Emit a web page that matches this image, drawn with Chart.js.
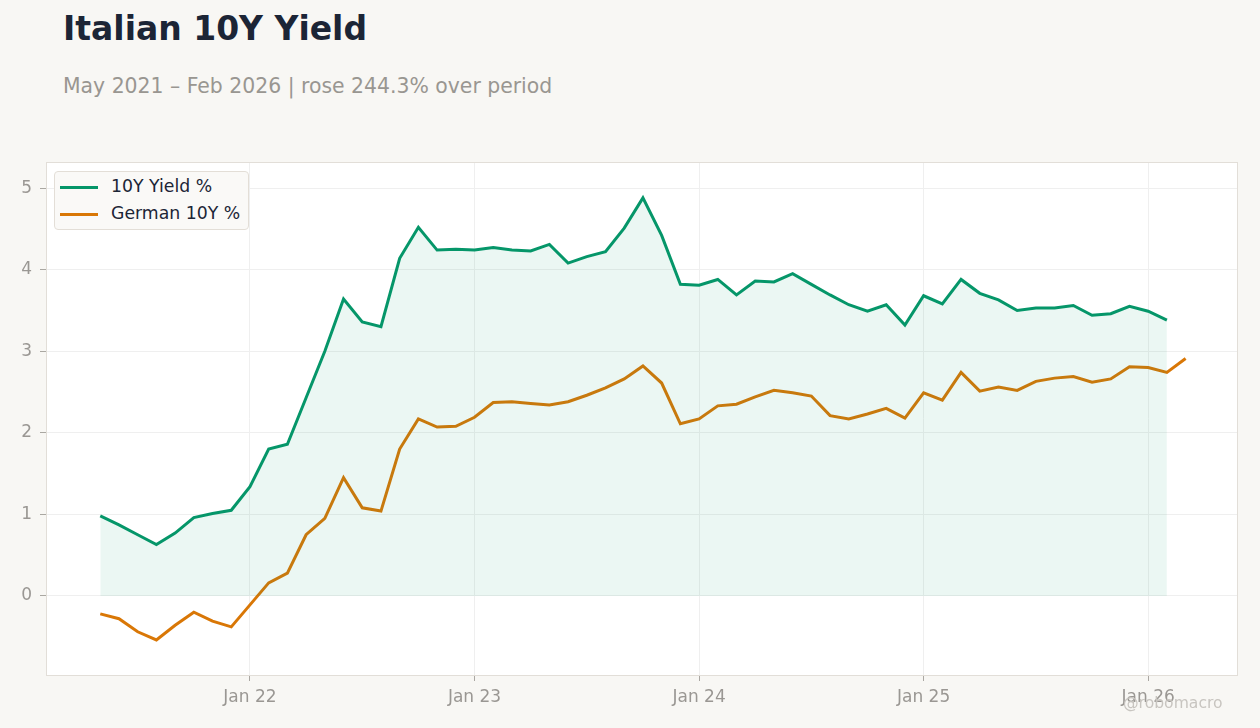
<!DOCTYPE html>
<html>
<head>
<meta charset="utf-8">
<script src="https://cdn.jsdelivr.net/npm/chart.js@4.4.1/dist/chart.umd.min.js"></script>
<style>
  html, body { margin: 0; padding: 0; background: #f8f7f4; }
  body { width: 1260px; height: 728px; position: relative; overflow: hidden; font-family: "DejaVu Sans", sans-serif; }
  #chart { position: absolute; left: 0; top: 0; }
  .title { position: absolute; left: 63px; top: 9px; font-size: 33px; font-weight: bold; color: #1c2536; }
  .subtitle { position: absolute; left: 63px; top: 74px; font-size: 20.4px; color: #999691; }
  .legend { position: absolute; left: 54px; top: 171px; width: 193px; height: 57px; background: #faf9f7;
            border: 1px solid #e3ded7; border-radius: 4px; }
  .legend div { position: absolute; left: 56px; font-size: 17.3px; color: #1c2536; white-space: nowrap; }
  .legend span { position: absolute; left: -51px; top: 10px; width: 38px; height: 3px; }
  .mark { position: absolute; left: 1123px; top: 694px; font-size: 15.6px; color: #c8c5c0; }
</style>
</head>
<body>
<div class="title">Italian 10Y Yield</div>
<div class="subtitle">May 2021 – Feb 2026 | rose 244.3% over period</div>
<canvas id="chart" width="1260" height="728"></canvas>
<div class="legend">
  <div style="top:4px"><span style="background:#059669"></span>10Y Yield %</div>
  <div style="top:31px"><span style="background:#d97706"></span>German 10Y %</div>
</div>
<div class="mark">@robomacro</div>
<script>
const months = [
  '2021-05','2021-06','2021-07','2021-08','2021-09','2021-10','2021-11','2021-12',
  '2022-01','2022-02','2022-03','2022-04','2022-05','2022-06','2022-07','2022-08','2022-09','2022-10','2022-11','2022-12',
  '2023-01','2023-02','2023-03','2023-04','2023-05','2023-06','2023-07','2023-08','2023-09','2023-10','2023-11','2023-12',
  '2024-01','2024-02','2024-03','2024-04','2024-05','2024-06','2024-07','2024-08','2024-09','2024-10','2024-11','2024-12',
  '2025-01','2025-02','2025-03','2025-04','2025-05','2025-06','2025-07','2025-08','2025-09','2025-10','2025-11','2025-12',
  '2026-01','2026-02','2026-03'
];

const italy10y = [
  0.98, 0.87, 0.75, 0.63, 0.77, 0.96, 1.01, 1.05,
  1.34, 1.80, 1.86, 2.43, 3.00, 3.64, 3.36, 3.30, 4.14, 4.52, 4.24, 4.25,
  4.24, 4.27, 4.24, 4.23, 4.31, 4.08, 4.16, 4.22, 4.51, 4.88, 4.42, 3.82,
  3.81, 3.88, 3.69, 3.86, 3.85, 3.95, 3.82, 3.69, 3.57, 3.49, 3.57, 3.32,
  3.68, 3.58, 3.88, 3.71, 3.63, 3.50, 3.53, 3.53, 3.56, 3.44, 3.46, 3.55,
  3.49, 3.38, null
];

const german10y = [
  -0.22, -0.28, -0.44, -0.54, -0.36, -0.20, -0.31, -0.38,
  -0.11, 0.16, 0.28, 0.75, 0.95, 1.45, 1.08, 1.04, 1.80, 2.17, 2.07, 2.08,
  2.19, 2.37, 2.38, 2.36, 2.34, 2.38, 2.46, 2.55, 2.66, 2.82, 2.61, 2.11,
  2.17, 2.33, 2.35, 2.44, 2.52, 2.49, 2.45, 2.21, 2.17, 2.23, 2.30, 2.18,
  2.49, 2.40, 2.74, 2.51, 2.56, 2.52, 2.63, 2.67, 2.69, 2.62, 2.66, 2.81,
  2.80, 2.74, 2.91
];

const tickMonths = ['2022-01', '2023-01', '2024-01', '2025-01', '2026-01'];
const tickLabels = ['Jan 22', 'Jan 23', 'Jan 24', 'Jan 25', 'Jan 26'];

// months since Jan 2021
const monthIndex = (s) => {
  const [y, m] = s.split('-').map(Number);
  return (y - 2021) * 12 + (m - 1);
};

const toPoints = (vals) => months.map((m, i) => ({x: monthIndex(m), y: vals[i]}));

const plotFrame = {
  id: 'plotFrame',
  beforeDraw(chart) {
    const {ctx, chartArea: a} = chart;
    ctx.save();
    ctx.fillStyle = '#ffffff';
    ctx.fillRect(a.left, a.top, a.width, a.height);
    ctx.restore();
  },
  afterDraw(chart) {
    const {ctx, chartArea: a} = chart;
    ctx.save();
    ctx.strokeStyle = '#e2ded8';
    ctx.lineWidth = 1;
    ctx.strokeRect(a.left + 0.5, a.top + 0.5, a.width - 1, a.height);
    ctx.restore();
  }
};

const tickFont = {family: 'DejaVu Sans', size: 17};

new Chart(document.getElementById('chart'), {
  type: 'line',
  data: {
    datasets: [
      {
        label: '10Y Yield %',
        data: toPoints(italy10y),
        borderColor: '#059669',
        backgroundColor: 'rgba(5, 150, 105, 0.08)',
        borderWidth: 3,
        fill: 'origin',
        pointRadius: 0,
        tension: 0,
      },
      {
        label: 'German 10Y %',
        data: toPoints(german10y),
        borderColor: '#d97706',
        borderWidth: 3,
        fill: false,
        pointRadius: 0,
        tension: 0,
      },
    ],
  },
  options: {
    responsive: false,
    animation: false,
    layout: {padding: {top: 162, right: 22, left: 0, bottom: 0}},
    plugins: {
      legend: {display: false},
      tooltip: {enabled: false},
    },
    scales: {
      x: {
        type: 'linear',
        min: 1.1,
        max: 64.8,
        afterFit: (s) => { s.height = 53; },
        afterBuildTicks: (s) => { s.ticks = tickMonths.map(m => ({value: monthIndex(m)})); },
        ticks: {
          color: '#9a9793',
          font: tickFont,
          padding: 6,
          maxRotation: 0,
          callback: (v) => tickLabels[tickMonths.findIndex(m => monthIndex(m) === v)],
        },
        grid: {color: '#efefef', tickColor: '#aaa7a2', tickLength: 6},
        border: {display: false},
      },
      y: {
        min: -0.97,
        max: 5.32,
        afterFit: (s) => { s.width = 46; },
        ticks: {
          stepSize: 1,
          includeBounds: false,
          color: '#9a9793',
          font: tickFont,
          padding: 8,
        },
        grid: {color: '#efefef', tickColor: '#aaa7a2', tickLength: 6},
        border: {display: false},
      },
    },
  },
  plugins: [plotFrame],
});
</script>
</body>
</html>
